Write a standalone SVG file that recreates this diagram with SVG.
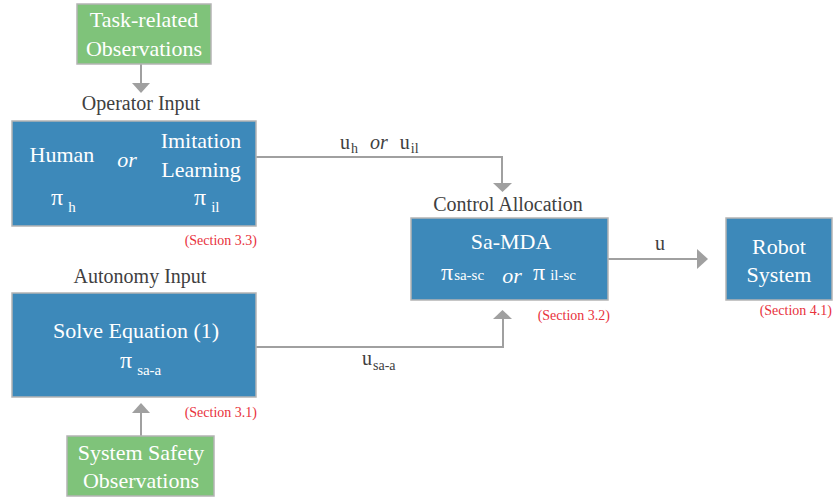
<svg xmlns="http://www.w3.org/2000/svg" width="833" height="498" viewBox="0 0 833 498" font-family="'Liberation Serif', 'Times New Roman', 'DejaVu Serif', serif">
<defs>
<style>
.blue{fill:#3d89ba;stroke:#b4b4b4;stroke-width:1.5}
.green{fill:#7fc37a;stroke:#b4b4b4;stroke-width:1.5}
text{font-family:'Liberation Serif','Times New Roman','DejaVu Serif',serif}
.w{fill:#ffffff;font-size:22px}
.ws{fill:#ffffff;font-size:15px}
.g{fill:#404040;font-size:20px}
.gs{fill:#404040;font-size:14px}
.red{fill:#e8323c;font-size:14px}
.conn{fill:none;stroke:#a0a0a0;stroke-width:2}
.it{font-style:italic}
.pi{font-size:24px}
</style>
</defs>

<g id="connectors">
<path class="conn" d="M141,64 V83"/>
<path d="M132,83 L150,83 L141,93 Z" fill="#a0a0a0"/>
<path class="conn" d="M256,157 H502 V183"/>
<path d="M493,183 L512,183 L502.5,192 Z" fill="#a0a0a0"/>
<path class="conn" d="M256,347 H503 V319"/>
<path d="M493,319 L512,319 L502.5,310 Z" fill="#a0a0a0"/>
<path class="conn" d="M141,436 V413"/>
<path d="M132,413 L150,413 L141,403 Z" fill="#a0a0a0"/>
<path class="conn" d="M608,259 H697"/>
<path d="M697,249 L708,259 L697,269 Z" fill="#a0a0a0"/>
<text class="g" x="340" y="149">u<tspan class="gs" dx="1" dy="4">h</tspan><tspan class="it" dx="12" dy="-4">or</tspan><tspan dx="12">u</tspan><tspan class="gs" dx="1" dy="4">il</tspan></text>
<text class="g" x="362" y="365">u<tspan class="gs" dx="1" dy="5">sa-a</tspan></text>
<text class="g" x="660" y="250" text-anchor="middle">u</text>
</g>

<g id="task-obs">
<rect class="green" x="77" y="4" width="134" height="60"/>
<text class="w" x="144" y="27" text-anchor="middle">Task-related</text>
<text class="w" x="144" y="56" text-anchor="middle">Observations</text>
</g>

<g id="operator-input">
<text class="g" x="141" y="110" text-anchor="middle">Operator Input</text>
<rect class="blue" x="12" y="121" width="244" height="105"/>
<text class="w" x="62" y="162" text-anchor="middle">Human</text>
<text class="w it" x="127" y="167" text-anchor="middle">or</text>
<text class="w" x="201" y="148" text-anchor="middle">Imitation</text>
<text class="w" x="201" y="177" text-anchor="middle">Learning</text>
<text class="w pi" x="51" y="205">π<tspan class="ws" dx="5" dy="7">h</tspan></text>
<text class="w pi" x="194" y="205">π<tspan class="ws" dx="5" dy="7">il</tspan></text>
<text class="red" x="257" y="245" text-anchor="end">(Section 3.3)</text>
</g>

<g id="autonomy-input">
<text class="g" x="140" y="283" text-anchor="middle">Autonomy Input</text>
<rect class="blue" x="12" y="293" width="244" height="104"/>
<text class="w" x="136" y="338" text-anchor="middle">Solve Equation (1)</text>
<text class="w pi" x="120" y="368">π<tspan class="ws" dx="5" dy="7">sa-a</tspan></text>
<text class="red" x="257" y="417" text-anchor="end">(Section 3.1)</text>
</g>

<g id="safety-obs">
<rect class="green" x="67" y="436" width="147" height="60"/>
<text class="w" x="141" y="460" text-anchor="middle">System Safety</text>
<text class="w" x="141" y="488" text-anchor="middle">Observations</text>
</g>

<g id="control-allocation">
<text class="g" x="508" y="211" text-anchor="middle">Control Allocation</text>
<rect class="blue" x="411" y="218" width="197" height="82"/>
<text class="w" x="511" y="249" text-anchor="middle">Sa-MDA</text>
<text class="w pi" x="441" y="280">π<tspan class="ws" dx="1">sa-sc</tspan></text>
<text class="w it" x="512" y="283" text-anchor="middle">or</text>
<text class="w pi" x="533" y="280">π<tspan class="ws" dx="5">il-sc</tspan></text>
<text class="red" x="610" y="320" text-anchor="end">(Section 3.2)</text>
</g>

<g id="robot-system">
<rect class="blue" x="726" y="218" width="106" height="82"/>
<text class="w" x="779" y="254" text-anchor="middle">Robot</text>
<text class="w" x="779" y="282" text-anchor="middle">System</text>
<text class="red" x="832" y="315" text-anchor="end">(Section 4.1)</text>
</g>
</svg>
